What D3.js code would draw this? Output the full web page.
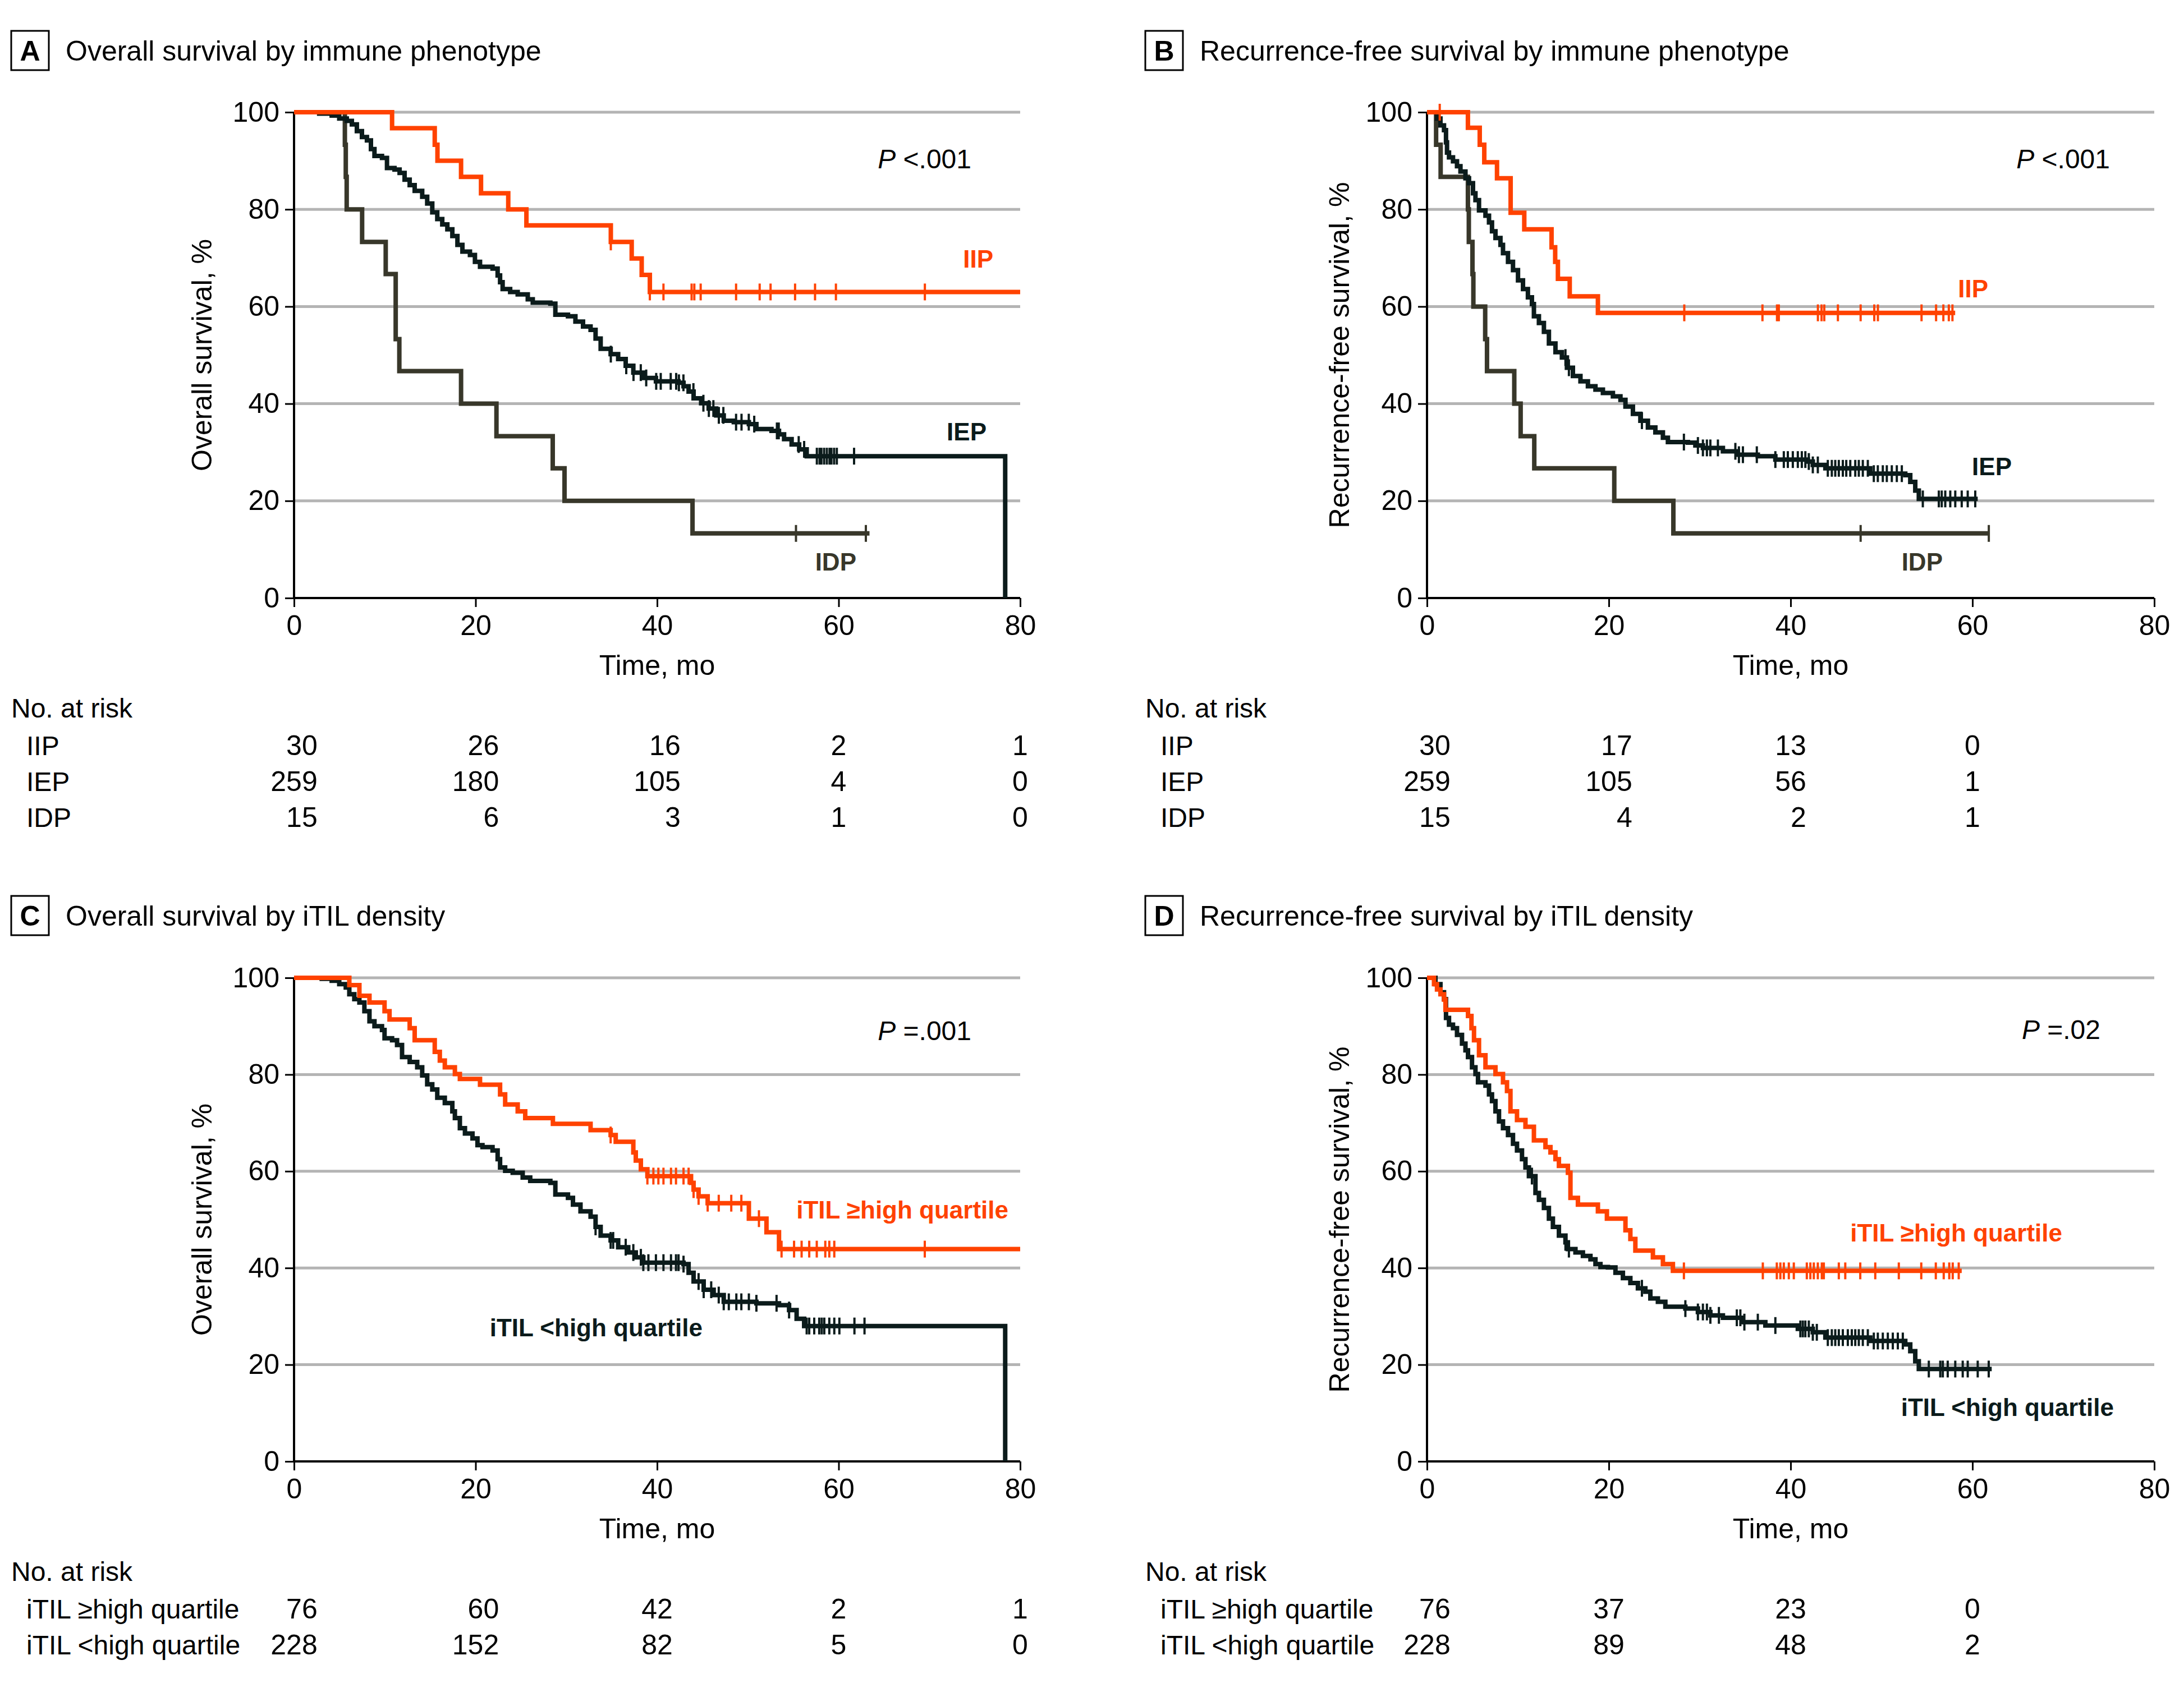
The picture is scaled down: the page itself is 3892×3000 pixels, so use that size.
<!DOCTYPE html>
<html><head><meta charset="utf-8">
<script src="https://cdn.jsdelivr.net/npm/d3@7"></script>
<style>
html,body{margin:0;padding:0;background:#fff;}
svg text{font-family:"Liberation Sans",Arial,sans-serif;}
</style></head>
<body>
<svg id="chart" width="3892" height="3000"></svg>
<script>
// ---------------- DATA ----------------
const timeTicks = [0, 20, 40, 60, 80];
const survTicks = [0, 20, 40, 60, 80, 100];
const riskTicksA = [0, 20, 40, 60, 80];
const riskTicksB = [0, 20, 40, 60];

// Panel A: overall survival by immune phenotype
const osIIP_t = [10.8,15.5,15.8,18.4,20.6,23.6,25.6,34.9,37.2,38.3,39.2];
const osIIP_s = [96.7,93.3,90.0,86.7,83.3,80.0,76.7,73.3,69.9,66.5,63.0];
const osIIP_c = [34.9,39.2,40.7,43.8,44.1,44.8,48.7,51.3,52.5,55.2,57.4,59.7,69.5];
const osIIP_end = 80;

const osIEP_t = [2.77,4.15,4.98,5.81,6.37,6.92,7.48,8.03,8.47,8.86,9.69,10.24,11.07,11.63,12.18,12.74,13.29,14.12,14.67,15.23,15.78,16.33,16.89,17.44,18.0,18.55,19.38,19.93,20.49,21.87,22.43,22.70,22.98,23.81,24.64,25.75,26.30,28.24,28.79,30.18,31.0,31.84,32.67,33.22,33.78,34.88,35.71,36.54,37.38,38.48,39.87,42.36,42.91,43.47,44.02,44.85,45.68,46.51,47.34,48.45,50.11,50.94,52.6,53.43,53.99,54.82,55.65,56.48,78.35];
const osIEP_s = [99.7,99.3,98.7,98.2,97.5,96.1,94.9,94.2,92.4,91.0,90.6,88.5,88.2,87.5,86.1,85.0,83.8,82.6,81.2,79.4,78.0,76.9,75.9,74.5,72.7,71.3,70.6,69.2,68.2,67.8,66.4,65.0,63.6,63.0,62.5,61.5,60.8,60.6,58.3,58.0,56.9,55.9,55.2,53.4,51.3,50.2,49.2,47.8,46.4,45.3,44.6,44.3,43.6,42.5,41.1,40.1,39.0,37.6,36.5,36.2,35.8,34.8,34.4,33.7,32.7,31.6,30.6,29.2,0];
const osIEP_c = [34.9,36.6,37.4,38.2,38.8,39.9,40.4,41.5,42.1,42.4,42.9,44.0,45.1,45.7,46.2,46.8,47.3,48.7,49.3,50.1,50.7,53.2,53.4,55.6,56.2,57.6,57.9,58.1,58.4,58.7,59.0,59.2,59.5,59.8,61.7];
const osIEP_end = 78.35;

const osIDP_t = [5.6,5.7,5.8,7.5,10.1,11.2,11.6,18.4,22.3,28.5,29.8,43.9];
const osIDP_s = [93.3,86.7,80.0,73.3,66.7,53.3,46.7,40.0,33.3,26.7,20.0,13.3];
const osIDP_c = [55.3,63.0];
const osIDP_end = 63.4;

// Panel B: recurrence-free survival by immune phenotype
const rfsIIP_t = [4.5,5.8,6.3,7.7,9.2,10.7,13.7,14.1,14.4,15.7,18.8];
const rfsIIP_s = [96.8,93.3,89.7,86.4,79.3,75.9,72.2,69.2,65.7,62.1,58.7];
const rfsIIP_c = [1.4,28.3,36.9,38.5,38.7,43.0,43.4,43.7,45.2,47.7,49.2,49.6,54.4,56.0,56.8,57.4,57.8];
const rfsIIP_end = 58.1;

const rfsIEP_t = [1.10,1.48,1.87,2.09,2.20,2.42,2.86,3.30,3.68,4.23,4.62,5.06,5.33,5.72,6.43,6.82,7.15,7.53,8.08,8.36,8.91,9.46,10.01,10.56,11.10,11.54,11.76,12.31,12.86,13.41,14.13,14.84,15.39,16.05,16.88,17.70,18.53,19.35,20.45,21.28,21.83,22.65,23.47,24.30,25.12,25.95,26.50,28.70,29.52,30.35,32.55,34.19,36.39,38.32,41.89,42.44,43.82,48.76,52.61,53.16,53.71,54.10];
const rfsIEP_s = [98.7,97.3,96.3,93.8,91.7,90.7,89.9,88.9,87.8,86.4,85.4,83.3,81.9,79.8,78.7,77.3,75.5,74.1,72.7,71.0,69.2,67.5,65.4,63.6,61.9,60.5,58.0,56.6,54.8,52.4,50.6,49.5,47.4,45.7,44.6,43.6,42.9,42.2,41.5,40.8,39.4,37.9,36.5,35.1,34.1,33.0,32.1,32.0,31.4,30.9,30.2,29.5,29.2,28.5,28.1,27.4,26.7,25.6,25.3,23.9,22.1,20.4];
const rfsIEP_c = [15.23,15.61,23.64,28.26,29.80,30.35,30.79,31.17,32.0,33.92,34.31,34.75,36.28,38.32,39.25,39.69,40.24,40.79,41.23,41.62,42.0,42.44,42.99,44.09,44.53,44.91,45.3,45.74,46.12,46.56,47.11,47.5,47.94,48.49,49.15,49.59,50.14,50.58,51.13,51.68,52.23,54.54,56.3,56.62,57.01,57.56,58.11,58.82,59.48,60.31];
const rfsIEP_end = 60.58;

const rfsIDP_t = [1.0,1.5,4.5,4.6,5.0,5.1,6.4,6.6,9.6,10.3,11.8,20.6,27.1];
const rfsIDP_s = [93.3,86.7,80.0,73.3,66.7,60.0,53.3,46.7,40.0,33.3,26.7,20.0,13.3];
const rfsIDP_c = [47.7,61.8];
const rfsIDP_end = 61.8;

// Panel C: overall survival by iTIL density
const osHigh_t = [6.09,7.20,8.31,9.97,10.52,12.74,13.29,15.50,16.06,16.61,17.72,18.27,20.49,22.70,23.26,24.64,25.47,28.52,32.67,34.88,35.44,37.38,37.65,38.21,38.93,43.74,44.02,44.57,45.57,50.11,52.05,53.43];
const osHigh_s = [98.5,96.3,94.9,93.1,91.4,89.6,87.1,84.7,82.9,81.5,80.1,79.1,77.9,75.9,73.8,72.4,71.0,69.8,68.5,67.5,66.1,63.9,62.2,60.4,59.0,57.6,56.2,54.8,53.4,50.2,47.4,43.9];
const osHigh_c = [34.88,38.93,39.59,40.14,40.70,41.53,42.08,42.91,43.47,44.02,44.57,45.57,46.79,48.17,49.28,51.22,53.71,55.09,55.92,56.76,57.59,58.53,58.97,59.52,69.49];
const osHigh_end = 80;

const osLow_t = [3.05,4.15,4.98,5.70,6.09,6.64,7.20,7.75,8.31,8.86,9.69,9.97,10.80,11.35,11.90,12.74,13.57,14.12,14.67,15.23,15.78,16.61,17.44,17.72,18.27,18.83,19.66,20.21,20.76,21.87,22.43,22.70,23.26,24.09,25.19,26.02,28.24,28.79,30.18,30.73,31.56,32.67,33.22,33.78,34.88,35.71,36.82,37.65,38.48,42.91,43.47,44.02,45.13,46.23,47.34,50.94,53.43,54.54,55.37,56.20,78.35];
const osLow_s = [99.8,99.4,98.7,98.0,96.6,95.6,94.9,93.1,91.0,90.0,89.2,87.5,87.1,86.1,83.6,82.6,81.5,79.8,78.0,76.9,75.2,74.1,72.4,71.0,68.9,67.8,66.8,65.4,65.0,64.3,62.5,60.8,60.1,59.7,58.7,58.0,57.6,55.2,54.5,53.1,51.7,50.6,48.5,46.7,45.7,44.3,43.2,42.2,41.1,40.8,39.0,37.2,35.5,34.4,33.0,32.7,32.3,31.3,29.5,28.0,0];
const osLow_c = [33.22,34.88,35.16,36.54,37.38,38.21,38.48,39.04,39.87,40.70,41.53,42.08,42.36,42.91,44.57,45.13,45.96,46.79,47.34,47.90,48.73,49.28,50.11,50.94,53.16,54.54,56.48,56.76,57.31,57.86,58.14,58.42,58.97,59.52,60.08,61.74,62.85];
const osLow_end = 78.35;

// Panel D: recurrence-free survival by iTIL density
const rfsHigh_t = [0.77,1.10,1.48,1.87,2.03,4.51,4.89,5.17,5.72,6.43,7.53,8.36,8.80,9.18,9.90,10.83,11.76,13.03,13.58,14.13,14.51,15.50,15.78,16.60,18.80,19.79,21.83,22.37,22.92,24.85,25.95,27.05];
const rfsHigh_s = [98.7,97.6,96.6,95.5,93.4,92.1,89.6,87.1,84.0,81.5,80.1,78.4,76.6,72.4,70.6,69.2,66.4,65.0,63.9,62.5,61.1,59.7,54.5,53.1,51.7,50.2,47.8,46.0,43.6,42.2,40.8,39.4];
const rfsHigh_c = [28.26,36.94,38.48,38.87,39.25,39.80,40.35,41.78,42.17,42.55,42.99,43.43,43.65,45.30,46.01,47.66,49.31,51.90,54.37,55.97,56.84,57.45,57.83,58.49];
const rfsHigh_end = 58.82;

const rfsLow_t = [0.93,1.48,1.87,2.09,2.42,2.86,3.30,3.85,4.23,4.51,4.95,5.33,5.61,6.43,6.82,7.15,7.53,7.92,8.36,8.91,9.46,9.90,10.45,10.83,11.21,11.93,12.31,12.86,13.41,13.85,14.51,15.23,15.50,16.33,17.15,17.98,18.53,19.08,19.90,20.73,21.55,22.37,23.20,24.02,24.57,25.40,26.22,28.42,29.80,31.17,32.55,34.74,37.22,40.79,42.44,43.82,48.76,52.61,53.16,53.71,54.10];
const rfsLow_s = [98.7,97.0,95.6,91.7,90.3,89.6,88.2,86.4,85.0,83.6,81.5,80.1,78.4,77.7,75.9,74.5,72.4,70.3,68.9,67.5,65.7,64.3,62.5,60.8,59.0,55.5,54.1,52.4,50.2,48.5,46.7,45.3,43.9,43.2,42.5,41.8,40.8,40.2,40.1,39.0,37.9,36.9,35.8,35.1,33.7,33.0,32.0,31.6,30.9,30.2,29.7,28.8,28.1,27.4,26.7,25.6,24.9,24.2,22.8,20.7,19.1];
const rfsLow_c = [11.54,15.23,15.61,23.64,28.42,29.80,30.35,30.79,31.17,32.11,34.08,34.47,34.91,36.39,38.32,41.07,41.34,41.62,42.0,42.44,42.88,44.09,44.53,44.91,45.30,45.74,46.29,46.73,47.11,47.50,47.94,48.49,49.15,49.59,50.14,50.69,51.24,51.79,52.34,55.20,56.46,56.74,57.28,58.11,58.93,59.48,60.58,61.79];
const rfsLow_end = 62.12;

// Numbers at risk
const riskA_IIP = [30, 26, 16, 2, 1];
const riskA_IEP = [259, 180, 105, 4, 0];
const riskA_IDP = [15, 6, 3, 1, 0];
const riskB_IIP = [30, 17, 13, 0];
const riskB_IEP = [259, 105, 56, 1];
const riskB_IDP = [15, 4, 2, 1];
const riskC_high = [76, 60, 42, 2, 1];
const riskC_low = [228, 152, 82, 5, 0];
const riskD_high = [76, 37, 23, 0];
const riskD_low = [228, 89, 48, 2];

const phenoNames = ["IIP", "IEP", "IDP"];
const tilNames = ["iTIL \u2265high quartile", "iTIL <high quartile"];

// ---------------- STYLE ----------------
const ORANGE = "#ff4200";
const DARK = "#0b1b1b";
const OLIVE = "#38372a";
const GRID = "#b4b4b4";
const FS = 50;

const svg = d3.select("#chart");

function drawPanel(p) {
  const x = d3.scaleLinear().domain([0, 80]).range([p.x0, p.x1]);
  const y = d3.scaleLinear().domain([0, 100]).range([p.y0, p.y1]);
  const g = svg.append("g");

  // title
  g.append("rect").attr("x", p.bx).attr("y", p.by).attr("width", 67).attr("height", 70)
    .attr("fill", "none").attr("stroke", "#000").attr("stroke-width", 3);
  g.append("text").attr("x", p.bx + 33.5).attr("y", p.by + 53).attr("text-anchor", "middle")
    .attr("font-size", FS).attr("font-weight", "bold").text(p.letter);
  g.append("text").attr("x", p.bx + 97).attr("y", p.by + 53).attr("font-size", FS).text(p.title);

  // grid
  g.append("g").selectAll("line").data(survTicks.filter(d => d > 0)).join("line")
    .attr("x1", x(0)).attr("x2", x(80)).attr("y1", d => y(d)).attr("y2", d => y(d))
    .attr("stroke", GRID).attr("stroke-width", 5);

  // axes
  const ax = g.append("g").attr("transform", `translate(0,${y(0)})`)
    .call(d3.axisBottom(x).tickValues(timeTicks).tickSize(16).tickPadding(14).tickFormat(d3.format("d")));
  const ay = g.append("g").attr("transform", `translate(${x(0)},0)`)
    .call(d3.axisLeft(y).tickValues(survTicks).tickSize(16).tickPadding(10).tickFormat(d3.format("d")));
  [ax, ay].forEach(a => {
    a.select(".domain").attr("stroke", "#000").attr("stroke-width", 4);
    a.selectAll(".tick line").attr("stroke", "#000").attr("stroke-width", 3);
    a.selectAll(".tick text").attr("font-size", FS).attr("fill", "#000")
      .attr("font-family", '"Liberation Sans",Arial,sans-serif');
  });
  ax.select(".domain").attr("d", `M${x(0)},0H${x(80)}`);
  ay.select(".domain").attr("d", `M0,${y(0)}V${y(100)}`);

  g.append("text").attr("x", (x(0) + x(80)) / 2).attr("y", y(0) + 137).attr("text-anchor", "middle")
    .attr("font-size", FS).text("Time, mo");
  g.append("text").attr("transform", `translate(${p.ytx},${(y(0) + y(100)) / 2}) rotate(-90)`)
    .attr("text-anchor", "middle").attr("dy", "0.35em").attr("font-size", FS).text(p.ytitle);

  // curves
  const line = d3.line().x(d => x(d[0])).y(d => y(d[1])).curve(d3.curveStepAfter);
  p.series.forEach(s => {
    const pts = [[0, 100]];
    s.t.forEach((t, i) => pts.push([t, s.s[i]]));
    if (s.end > pts[pts.length - 1][0]) pts.push([s.end, pts[pts.length - 1][1]]);
    g.append("path").attr("d", line(pts)).attr("fill", "none").attr("stroke", s.color)
      .attr("stroke-width", 8).attr("stroke-linejoin", "miter");
    const bis = d3.bisector(d => d[0]).right;
    const survAt = t => pts[Math.max(0, bis(pts, t) - 1)][1];
    g.append("g").selectAll("line").data(s.c).join("line")
      .attr("x1", d => x(d)).attr("x2", d => x(d))
      .attr("y1", d => y(survAt(d)) - 15).attr("y2", d => y(survAt(d)) + 15)
      .attr("stroke", s.color).attr("stroke-width", 4);
  });

  // annotations
  const pv = g.append("text").attr("x", p.px).attr("y", p.py).attr("text-anchor", "end").attr("font-size", 48);
  pv.append("tspan").attr("font-style", "italic").text("P");
  pv.append("tspan").text(" " + p.pval);
  p.labels.forEach(l => {
    g.append("text").attr("x", l.x).attr("y", l.y).attr("text-anchor", "end")
      .attr("font-size", 44).attr("font-weight", "bold").attr("fill", l.color).text(l.text);
  });

  // numbers at risk
  const r0 = y(0);
  g.append("text").attr("x", p.bx).attr("y", r0 + 213).attr("font-size", 48).text("No. at risk");
  p.risk.forEach((row, i) => {
    g.append("text").attr("x", p.bx + 27).attr("y", r0 + 280 + i * 64).attr("font-size", 48).text(row.name);
  });
  p.riskTicks.forEach((tk, j) => {
    const texts = p.risk.map((row, i) => g.append("text").attr("y", r0 + 280 + i * 64)
      .attr("text-anchor", "end").attr("font-size", FS).text(row.vals[j]));
    const w = d3.max(texts, t => t.node().getComputedTextLength());
    texts.forEach(t => t.attr("x", x(tk) + w / 2));
  });
}

const AX0 = 524, AX1 = 1818, BX0 = 2543, BX1 = 3839;
const TY0 = 1066, TY1 = 200, LY0 = 2605, LY1 = 1743;

drawPanel({
  letter: "A", title: "Overall survival by immune phenotype", bx: 20, by: 55,
  x0: AX0, x1: AX1, y0: TY0, y1: TY1, ytx: 359, ytitle: "Overall survival, %",
  series: [
    { t: osIDP_t, s: osIDP_s, c: osIDP_c, end: osIDP_end, color: OLIVE },
    { t: osIEP_t, s: osIEP_s, c: osIEP_c, end: osIEP_end, color: DARK },
    { t: osIIP_t, s: osIIP_s, c: osIIP_c, end: osIIP_end, color: ORANGE }
  ],
  px: 1731, py: 300, pval: "<.001",
  labels: [
    { text: phenoNames[0], x: 1770, y: 477, color: ORANGE },
    { text: phenoNames[1], x: 1758, y: 785, color: DARK },
    { text: phenoNames[2], x: 1526, y: 1017, color: OLIVE }
  ],
  riskTicks: riskTicksA,
  risk: [{ name: phenoNames[0], vals: riskA_IIP }, { name: phenoNames[1], vals: riskA_IEP }, { name: phenoNames[2], vals: riskA_IDP }]
});

drawPanel({
  letter: "B", title: "Recurrence-free survival by immune phenotype", bx: 2041, by: 55,
  x0: BX0, x1: BX1, y0: TY0, y1: TY1, ytx: 2386, ytitle: "Recurrence-free survival, %",
  series: [
    { t: rfsIDP_t, s: rfsIDP_s, c: rfsIDP_c, end: rfsIDP_end, color: OLIVE },
    { t: rfsIEP_t, s: rfsIEP_s, c: rfsIEP_c, end: rfsIEP_end, color: DARK },
    { t: rfsIIP_t, s: rfsIIP_s, c: rfsIIP_c, end: rfsIIP_end, color: ORANGE }
  ],
  px: 3760, py: 300, pval: "<.001",
  labels: [
    { text: phenoNames[0], x: 3543, y: 530, color: ORANGE },
    { text: phenoNames[1], x: 3585, y: 847, color: DARK },
    { text: phenoNames[2], x: 3462, y: 1017, color: OLIVE }
  ],
  riskTicks: riskTicksB,
  risk: [{ name: phenoNames[0], vals: riskB_IIP }, { name: phenoNames[1], vals: riskB_IEP }, { name: phenoNames[2], vals: riskB_IDP }]
});

drawPanel({
  letter: "C", title: "Overall survival by iTIL density", bx: 20, by: 1597,
  x0: AX0, x1: AX1, y0: LY0, y1: LY1, ytx: 359, ytitle: "Overall survival, %",
  series: [
    { t: osLow_t, s: osLow_s, c: osLow_c, end: osLow_end, color: DARK },
    { t: osHigh_t, s: osHigh_s, c: osHigh_c, end: osHigh_end, color: ORANGE }
  ],
  px: 1731, py: 1854, pval: "=.001",
  labels: [
    { text: tilNames[0], x: 1797, y: 2172, color: ORANGE },
    { text: tilNames[1], x: 1252, y: 2382, color: DARK }
  ],
  riskTicks: riskTicksA,
  risk: [{ name: tilNames[0], vals: riskC_high }, { name: tilNames[1], vals: riskC_low }]
});

drawPanel({
  letter: "D", title: "Recurrence-free survival by iTIL density", bx: 2041, by: 1597,
  x0: BX0, x1: BX1, y0: LY0, y1: LY1, ytx: 2386, ytitle: "Recurrence-free survival, %",
  series: [
    { t: rfsLow_t, s: rfsLow_s, c: rfsLow_c, end: rfsLow_end, color: DARK },
    { t: rfsHigh_t, s: rfsHigh_s, c: rfsHigh_c, end: rfsHigh_end, color: ORANGE }
  ],
  px: 3743, py: 1852, pval: "=.02",
  labels: [
    { text: tilNames[0], x: 3675, y: 2213, color: ORANGE },
    { text: tilNames[1], x: 3767, y: 2524, color: DARK }
  ],
  riskTicks: riskTicksB,
  risk: [{ name: tilNames[0], vals: riskD_high }, { name: tilNames[1], vals: riskD_low }]
});
</script>
</body></html>
